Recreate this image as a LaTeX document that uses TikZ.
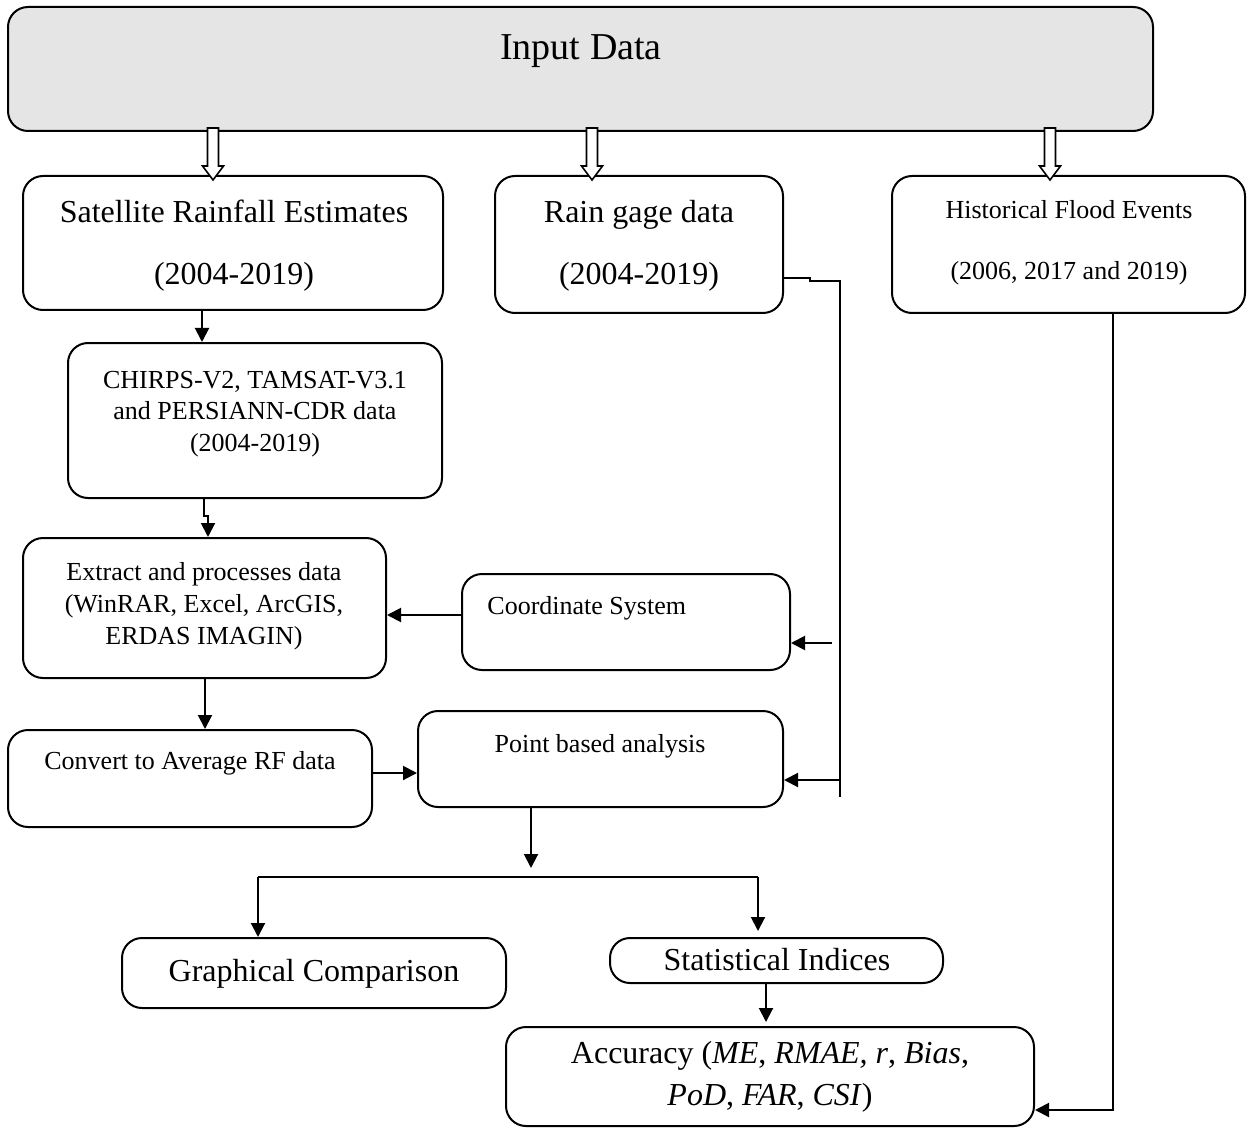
\documentclass[tikz,border=0pt]{standalone}
\usepackage{fontspec}
\setmainfont{Liberation Serif}
\usepackage{tikz}
\usetikzlibrary{arrows.meta,fit,calc}
\definecolor{inputbg}{HTML}{E5E5E5}
\tikzset{
  box/.style={draw,line width=1pt,rounded corners=10pt,inner sep=0pt},
  boxg/.style={box,fill=inputbg},
  txt/.style={inner sep=0pt,align=center,font=\fontsize{13}{15.75}\selectfont},
  txtb/.style={txt,font=\fontsize{16}{20}\selectfont},
  flow/.style={-{Triangle[length=7pt,width=7pt]},line width=1pt},
  link/.style={line width=1pt},
  hollow/.pic={\draw[line width=0.8pt,fill=white]
    (-5.5,0) -- (5.5,0) -- (5.5,38) -- (10.5,38) -- (0,52)
    -- (-10.5,38) -- (-5.5,38) -- cycle;},
}

\begin{document}
\begin{tikzpicture}[x=0.5pt,y=-0.5pt]
  \useasboundingbox (0,0) rectangle (1251,1128);
  % boxes
  \node[boxg,fit={(8,7) (1153,131)}](input){};
  \node[box,fit={(23,176) (443,310)}](sat){};
  \node[box,fit={(495,176) (783,313)}](rain){};
  \node[box,fit={(892,176) (1245,313)}](hist){};
  \node[box,fit={(68,343) (442,498)}](chirps){};
  \node[box,fit={(23,538) (386,678)}](extract){};
  \node[box,fit={(462,574) (790,670)}](coord){};
  \node[box,fit={(8,730) (372,827)}](convert){};
  \node[box,fit={(418,711) (783,807)}](point){};
  \node[box,fit={(122,938) (506,1008)}](graph){};
  \node[box,fit={(610,938) (943,983)}](stat){};
  \node[box,fit={(506,1027) (1034,1126)}](acc){};
  % texts
  \node[txt,font=\fontsize{19}{23}\selectfont](inputL) at (581,51){Input Data};
  \node[txtb,font=\fontsize{16}{31}\selectfont](satL) at (234,246){Satellite Rainfall Estimates\\(2004-2019)};
  \node[txtb,font=\fontsize{16}{31}\selectfont](rainL) at (639,246){Rain gage data\\(2004-2019)};
  \node[txt,font=\fontsize{13}{30.5}\selectfont](histL) at (1069,243){Historical Flood Events\\(2006, 2017 and 2019)};
  \node[txt](chirpsL) at (255,414){CHIRPS-V2, TAMSAT-V3.1\\and PERSIANN-CDR data\\(2004-2019)};
  \node[txt,font=\fontsize{13}{16}\selectfont](extractL) at (204,606){Extract and processes data\\(WinRAR, Excel, ArcGIS,\\ERDAS IMAGIN)};
  \node[txt,anchor=west](coordL) at (487,608){Coordinate System};
  \node[txt](convertL) at (190,763){Convert to Average RF data};
  \node[txt](pointL) at (600,746){Point based analysis};
  \node[txtb](graphL) at (314,974){Graphical Comparison};
  \node[txtb](statL) at (777,960){Statistical Indices};
  \node[txtb,font=\fontsize{16}{21}\selectfont](accL) at (770,1077){Accuracy (\textit{ME}, \textit{RMAE, r}, \textit{Bias},\\\textit{PoD}, \textit{FAR}, \textit{CSI})};
  % connector points
  \coordinate (rtap) at (840,281);
  \coordinate (rend) at (840,797);
  \coordinate (ctap) at (832,643);
  \coordinate (ptap) at (840,780);
  \coordinate (split) at (531,868);
  \coordinate (busl) at (258,877);
  \coordinate (busr) at (758,877);
  \coordinate (hcorner) at (1113,1110);
  % connectors
  \draw[flow](sat.south -| 202,0) -- (chirps.north -| 202,0);
  \draw[flow](chirps.south -| 204,0) -- (204,516) -- (208,516) -- (extract.north -| 208,0);
  \draw[flow](extract.south -| 205,0) -- (convert.north -| 205,0);
  \draw[flow](convert.east |- 0,773) -- (point.west |- 0,773);
  \draw[flow](coord.west |- 0,615) -- (extract.east |- 0,615);
  \draw[link](rain.east |- 0,278) -- (810,278) -- (810,281) -- (rtap) -- (rend);
  \draw[flow](ctap) -- (coord.east |- ctap);
  \draw[flow](ptap) -- (point.east |- ptap);
  \draw[flow](point.south -| split) -- (split);
  \draw[link](busl) -- (busr);
  \draw[flow](busl) -- (graph.north -| busl);
  \draw[flow,shorten >=3pt](busr) -- (stat.north -| busr);
  \draw[flow,shorten >=2pt](stat.south -| 766,0) -- (acc.north -| 766,0);
  \draw[flow](hist.south -| hcorner) -- (hcorner) -- (acc.east |- hcorner);
  % block arrows out of the input box
  \foreach \x in {213,592,1050}
    \pic at (\x,128) {hollow};
\end{tikzpicture}
\end{document}
